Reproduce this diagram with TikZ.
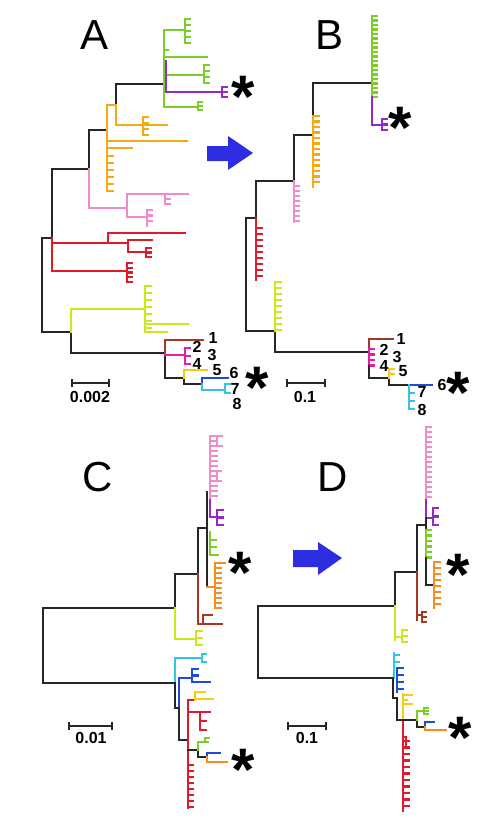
\documentclass[tikz,border=0pt]{standalone}
\usepackage{fontspec}
\setmainfont{Liberation Sans}
\definecolor{cgrn}{RGB}{125,205,40}
\definecolor{cpur}{RGB}{150,40,200}
\definecolor{corg}{RGB}{245,170,20}
\definecolor{corgd}{RGB}{248,140,30}
\definecolor{cpnk}{RGB}{240,140,200}
\definecolor{cred}{RGB}{225,25,40}
\definecolor{clim}{RGB}{205,230,30}
\definecolor{cbrn}{RGB}{165,55,35}
\definecolor{cmag}{RGB}{225,30,165}
\definecolor{cyel}{RGB}{245,205,20}
\definecolor{cblu}{RGB}{30,75,215}
\definecolor{ccyn}{RGB}{55,195,230}
\definecolor{carr}{RGB}{45,45,225}
\tikzset{
  br/.style={line width=2.3pt, line cap=rect},
  blk/.style={br, draw=black!85},
  grn/.style={br, draw=cgrn},
  pur/.style={br, draw=cpur},
  org/.style={br, draw=corg},
  orgd/.style={br, draw=corgd},
  pnk/.style={br, draw=cpnk},
  rd/.style={br, draw=cred},
  lim/.style={br, draw=clim},
  brn/.style={br, draw=cbrn},
  mag/.style={br, draw=cmag},
  yel/.style={br, draw=cyel},
  blu/.style={br, draw=cblu},
  cyn/.style={br, draw=ccyn},
  panel/.style={font=\fontsize{42}{42}\selectfont, inner sep=0pt},
  num/.style={font=\fontsize{16}{16}\selectfont\bfseries, inner sep=0pt},
  ast/.style={font=\fontsize{60}{60}\selectfont\bfseries, inner sep=0pt, anchor=base},
  bar/.style={line width=2.3pt, draw=black!85},
}
% comb: style, x, first y, second y, last y, tick length
\newcommand\comb[6]{%
  \draw[#1] (#2,#3) -- (#2,#5);
  \foreach \yy in {#3,#4,...,#5} \draw[#1] (#2,\yy) -- ++(#6,0);
}
\begin{document}
\begin{tikzpicture}[x=1pt,y=-1pt]
\useasboundingbox (0,0) rectangle (485,819);

% A
\node[panel] (labA) at (95,35) {A};
\draw[blk] (42,238) -- (42,332) -- (71,332) -- (71,353) -- (165,353);
\draw[blk] (42,238) -- (52,238) -- (52,169) -- (89,169) -- (89,130) -- (107,130);
\draw[blk] (116,105) -- (116,84) -- (164,84);
\draw[blk] (165,355) -- (165,378) -- (184,378) -- (184,384) -- (202,384);
\draw[org] (107,105) -- (107,191);
\draw[org] (107,105) -- (116,105) -- (116,125) -- (167,125);
\comb{org}{143}{117}{123}{135}{5}
\draw[org] (107,141) -- (187,141);
\draw[org] (107,148) -- (132,148);
\foreach \yy in {156,163,...,191} \draw[org] (107,\yy) -- ++(6,0);
\draw[grn] (164,30) -- (164,107);
\draw[grn] (164,30) -- (185,30);
\comb{grn}{185}{19}{25}{43}{5}
\draw[grn] (164,50) -- ++(4,0);
\draw[grn] (164,57) -- (207,57);
\draw[grn] (166,75) -- (204,75);
\comb{grn}{204}{65}{71}{83}{5}
\draw[grn] (164,107) -- (198,107);
\comb{grn}{198}{102}{106}{110}{4}
\draw[pur] (166,61) -- (166,92) -- (222,92);
\comb{pur}{222}{87}{92}{97}{5}
\node[ast] (astA1) at (243,117) {*};
\draw[pnk] (89,169) -- (89,208) -- (127,208);
\draw[pnk] (127,194) -- (127,217) -- (147,217);
\draw[pnk] (127,194) -- (188,194);
\comb{pnk}{165}{194}{199}{204}{5}
\comb{pnk}{147}{210}{215.5}{226}{5}
\draw[rd] (52,238) -- (52,271) -- (127,271);
\draw[rd] (52,243) -- (128,243);
\draw[rd] (108,243) -- (108,233) -- (185,233);
\draw[rd] (128,240) -- (128,252) -- (146,252);
\draw[rd] (128,240) -- (152,240);
\comb{rd}{146}{248}{252.5}{257}{5}
\comb{rd}{127}{263}{267.75}{282}{5}
\draw[lim] (71,332) -- (71,309) -- (145,309);
\comb{lim}{145}{286}{293}{332}{6}
\draw[lim] (145,324) -- (188,324);
\draw[lim] (145,332) -- (167,332);
\draw[brn] (165,353) -- (165,340) -- (203,340);
\draw[mag] (165,355) -- (185,355);
\comb{mag}{185}{348}{356}{364}{5}
\draw[yel] (184,378) -- (184,370) -- (207,370);
\draw[blu] (202,384) -- (202,378) -- (228,378);
\draw[cyn] (202,384) -- (202,390) -- (225,390);
\draw[cyn] (225,384) -- (225,393) (225,384) -- ++(5,0) (225,393) -- ++(5,0);
\node[num] (a1) at (213,338) {1};
\node[num] (a2) at (197,347) {2};
\node[num] (a3) at (212,355) {3};
\node[num] (a4) at (197,364) {4};
\node[num] (a5) at (217,370) {5};
\node[num] (a6) at (234,373) {6};
\node[num] (a7) at (235,389) {7};
\node[num] (a8) at (237,404) {8};
\node[ast] (astA2) at (257,408) {*};
\draw[bar] (72,379) -- (72,387) (72,383) -- (109,383) (109,379) -- (109,387);
\node[num] (sclA) at (90,397) {0.002};

\fill[carr] (207,146) -- (228,146) -- (228,136) -- (253,153) -- (228,170) -- (228,161) -- (207,161) -- cycle;

% B
\node[panel] (labB) at (330,35) {B};
\draw[blk] (246,218) -- (246,331) -- (275,331) -- (275,352) -- (369,352);
\draw[blk] (246,218) -- (256,218) -- (256,181) -- (294,181) -- (294,135) -- (313,135);
\draw[blk] (313,116) -- (313,83) -- (372,83);
\comb{grn}{372}{16}{20.5}{97}{5}
\draw[pur] (372,97) -- (372,125) -- (382,125);
\comb{pur}{382}{119}{124.5}{130}{5}
\node[ast] (astB1) at (400,148) {*};
\comb{org}{313}{116}{121.5}{187}{6}
\draw[pnk] (294,181) -- (294,186);
\comb{pnk}{294}{186}{191}{222}{5}
\draw[rd] (256,218) -- (256,228);
\comb{rd}{256}{228}{234}{280}{6}
\comb{lim}{275}{282}{288}{331}{6}
\draw[brn] (369,352) -- (369,339) -- (393,339);
\comb{mag}{369}{349}{354.5}{366}{5}
\draw[blk] (369,366) -- (369,378) -- (389,378) -- (389,385) -- (409,385);
\draw[yel] (389,378) -- (389,369) (389,369) -- ++(5,0) (389,374) -- ++(5,0);
\draw[blu] (409,385) -- (432,385);
\draw[cyn] (409,385) -- (409,409);
\foreach \yy in {393,401,409} \draw[cyn] (409,\yy) -- ++(5,0);
\node[num] (b1) at (401,339) {1};
\node[num] (b2) at (384,350) {2};
\node[num] (b3) at (397,357) {3};
\node[num] (b4) at (384,366) {4};
\node[num] (b5) at (403,371) {5};
\node[num] (b6) at (442,385) {6};
\node[num] (b7) at (422,392) {7};
\node[num] (b8) at (422,410) {8};
\node[ast] (astB2) at (458,413) {*};
\draw[bar] (287,379) -- (287,387) (287,383) -- (325,383) (325,379) -- (325,387);
\node[num] (sclB) at (305,397) {0.1};

% C
\node[panel] (labC) at (98,477) {C};
\draw[blk] (175,608) -- (43,608) -- (43,683) -- (175,683);
\draw[blk] (175,608) -- (175,574) -- (198,574) -- (198,528) -- (207,528);
\draw[blk] (207,492) -- (207,587);
\draw[lim] (175,608) -- (175,639) -- (196,639);
\comb{lim}{196}{631}{638}{645}{6}
\draw[brn] (198,574) -- (198,624) -- (222,624);
\draw[brn] (203,615) -- (203,624) (203,615) -- (212,615);
\comb{pnk}{210}{436}{441}{500}{7}
\draw[pnk] (217,436) -- (217,446) (217,436) -- ++(5,0) (217,446) -- ++(5,0);
\draw[pnk] (217,471) -- (217,481) (217,471) -- ++(4,0) (217,481) -- ++(4,0);
\draw[pur] (210,500) -- (210,517) -- (217,517);
\comb{pur}{217}{510}{517.5}{525}{6}
\draw[grn] (210,532) -- (210,555) -- (218,555);
\draw[grn] (210,540) -- ++(6,0) (210,547) -- ++(6,0);
\draw[orgd] (207,587) -- (215,587);
\comb{orgd}{215}{563}{568}{608}{6}
\draw[orgd] (215,563) -- (225,563);
\node[ast] (astC1) at (240,593) {*};
\draw[cyn] (175,683) -- (175,658) -- (202,658);
\draw[cyn] (202,654) -- (202,662) (202,654) -- ++(4,0) (202,662) -- ++(4,0);
\draw[blu] (179,708) -- (179,678) -- (192,678);
\comb{blu}{192}{669}{675.5}{682}{6}
\draw[blu] (192,682) -- (210,682);
\draw[blk] (175,683) -- (175,708) -- (179,708) -- (179,740) -- (188,740);
\draw[rd] (188,700) -- (188,808);
\draw[rd] (188,700) -- (195,700);
\draw[yel] (195,700) -- (195,692) -- (205,692) (195,699) -- (213,699);
\draw[rd] (188,712) -- (200,712) -- (200,730);
\draw[rd] (200,712) -- (210,712) (200,721) -- ++(6,0) (200,730) -- ++(6,0);
\foreach \yy in {765,771,...,808} \draw[rd] (188,\yy) -- ++(5,0);
\draw[blk] (188,750) -- (198,750) -- (198,757) -- (207,757);
\draw[grn] (198,750) -- (198,742) -- (208,742);
\draw[grn] (205,738) -- (205,742) (205,738) -- ++(4,0);
\draw[blu] (207,757) -- (207,753) -- (220,753);
\draw[orgd] (207,757) -- (207,762) -- (227,762);
\node[ast] (astC2) at (243,790) {*};
\draw[bar] (69,722) -- (69,730) (69,726) -- (112,726) (112,722) -- (112,730);
\node[num] (sclC) at (91,738) {0.01};

\fill[carr] (293,550) -- (318,550) -- (318,542) -- (342,558) -- (318,575) -- (318,567) -- (293,567) -- cycle;

% D
\node[panel] (labD) at (333,477) {D};
\draw[blk] (395,606) -- (258,606) -- (258,678) -- (393,678);
\draw[blk] (395,606) -- (395,572) -- (417,572) -- (417,525) -- (426,525);
\draw[lim] (395,606) -- (395,640) (395,637) -- (402,637);
\comb{lim}{402}{630}{636}{642}{5}
\draw[brn] (417,572) -- (417,620) (417,615) -- (422,615);
\comb{brn}{422}{612}{617}{622}{4}
\comb{pnk}{426}{427}{432}{500}{5}
\draw[pur] (426,500) -- (426,518) -- (433,518);
\comb{pur}{433}{508}{516.5}{525}{5}
\draw[blk] (426,518) -- (426,530);
\comb{grn}{426}{530}{535.5}{558}{5}
\draw[blk] (426,558) -- (426,585) -- (434,585);
\comb{orgd}{434}{562}{568}{608}{6}
\node[ast] (astD1) at (458,595) {*};
\draw[cyn] (394,678) -- (394,653) (394,655) -- ++(5,0) (394,662) -- ++(5,0);
\comb{blu}{397}{668}{675}{692}{6}
\draw[blk] (393,678) -- (393,698) -- (397,698) -- (397,720) -- (403,720);
\draw[yel] (403,720) -- (403,694) (403,695) -- ++(9,0) (403,700) -- ++(4,0) (403,704) -- ++(9,0);
\draw[rd] (403,720) -- (403,811);
\draw[rd] (403,737) -- (406,737) -- (406,745);
\foreach \yy in {741,747.5,...,811} \draw[rd] (403,\yy) -- ++(6,0);
\draw[blk] (403,720) -- (417,720) -- (417,727) -- (425,727);
\draw[grn] (417,720) -- (417,711) -- (424,711);
\comb{grn}{424}{708}{711}{714}{4}
\draw[blu] (425,727) -- (425,722) -- (434,722);
\draw[orgd] (425,727) -- (425,730) -- (446,730);
\node[ast] (astD2) at (460,758) {*};
\draw[bar] (288,722) -- (288,730) (288,726) -- (326,726) (326,722) -- (326,730);
\node[num] (sclD) at (307,738) {0.1};
\end{tikzpicture}
\end{document}
